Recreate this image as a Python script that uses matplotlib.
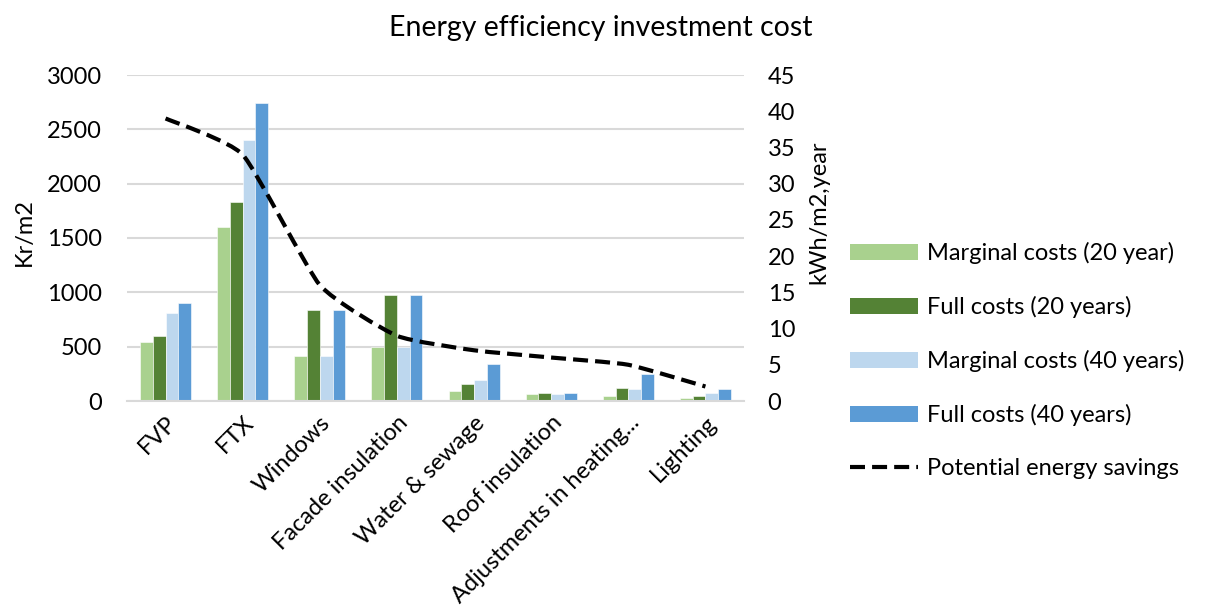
import matplotlib
matplotlib.use("Agg")
import matplotlib.pyplot as plt
import numpy as np
from matplotlib.path import Path
from matplotlib.patches import PathPatch
from matplotlib.lines import Line2D
from matplotlib.patches import Patch

plt.rcParams['font.family'] = ['Lato', 'DejaVu Sans']

categories = ["FVP", "FTX", "Windows", "Facade insulation", "Water & sewage",
              "Roof insulation", "Adjustments in heating...", "Lighting"]
marginal_20 = [540, 1600, 410, 500, 90, 65, 50, 30]
full_20 = [600, 1830, 840, 980, 160, 75, 120, 50]
marginal_40 = [810, 2400, 410, 500, 190, 65, 110, 70]
full_40 = [900, 2740, 840, 980, 340, 75, 250, 110]
energy_savings = [39, 34, 16, 9, 7, 6, 5, 2]

series_names = ["Marginal costs (20 year)", "Full costs (20 years)",
                "Marginal costs (40 years)", "Full costs (40 years)"]
colors = ["#A9D18E", "#548235", "#BDD7EE", "#5B9BD5"]
line_name = "Potential energy savings"

FS = 17

fig = plt.figure(figsize=(12.05, 6.12), dpi=100)
ax = fig.add_axes([127/1205, 1-401/612, (744-127)/1205, (401-75)/612])
ax2 = ax.twinx()

x = np.arange(len(categories))
bw = 0.165
series = [marginal_20, full_20, marginal_40, full_40]
for i, (vals, c) in enumerate(zip(series, colors)):
    ax.bar(x + (i - 1.5) * bw, vals, width=bw, color=c, edgecolor='white',
           linewidth=0.4, zorder=2)

ax.set_xlim(-0.5, len(categories) - 0.5)
ax.set_ylim(0, 3000)
ax.set_yticks(np.arange(0, 3001, 500))
ax.yaxis.grid(True, color='#D9D9D9', linewidth=1.5, zorder=0)
ax.set_axisbelow(True)
for s in ['top', 'right', 'left']:
    ax.spines[s].set_visible(False)
ax.spines['bottom'].set_color('#D9D9D9')
ax.spines['bottom'].set_linewidth(1.5)
ax.tick_params(axis='y', length=0, labelsize=FS, colors='black', pad=18)
ax.tick_params(axis='x', length=0, labelsize=FS, colors='black', pad=8)
ax.set_xticks(x)
ax.set_xticklabels(categories, rotation=45, ha='right', rotation_mode='anchor')
ax.set_ylabel("Kr/m2", fontsize=FS)
ax.yaxis.set_label_coords(-0.15, 0.518)

# smoothed line (Excel-like Bezier through data points)
pts = np.column_stack([x.astype(float), np.array(energy_savings, float)])
verts = [tuple(pts[0])]
codes = [Path.MOVETO]
n = len(pts)
k = 1.0 / 12.0
for i in range(n - 1):
    p0 = pts[i - 1] if i > 0 else pts[i]
    p1 = pts[i]
    p2 = pts[i + 1]
    p3 = pts[i + 2] if i + 2 < n else pts[i + 1]
    c1 = p1 + (p2 - p0) * k
    c2 = p2 - (p3 - p1) * k
    verts += [tuple(c1), tuple(c2), tuple(p2)]
    codes += [Path.CURVE4] * 3
dash = (0, (3.6, 1.7))
patch = PathPatch(Path(verts, codes), facecolor='none', edgecolor='black',
                  linewidth=3.0, linestyle=dash, zorder=5)
ax2.add_patch(patch)
ax2.set_ylim(0, 45)
ax2.set_yticks(np.arange(0, 46, 5))
for s in ax2.spines.values():
    s.set_visible(False)
ax2.tick_params(axis='y', length=0, labelsize=FS, colors='black', pad=17)
ax2.set_ylabel("kWh/m2,year", fontsize=FS)
ax2.yaxis.set_label_coords(1.105, 0.58)

fig.text(601/1205, 1-28/612, "Energy efficiency investment cost",
         ha='center', va='center', fontsize=20.5)

handles = [Patch(facecolor=c, edgecolor='none') for c in colors]
handles.append(Line2D([0], [0], color='black', linewidth=3.0, linestyle=dash))
labels = series_names + [line_name]
fig.legend(handles, labels, loc='upper left', bbox_to_anchor=(829/1205, 1-221/612),
           frameon=False, fontsize=FS, handlelength=2.85, handleheight=0.65,
           labelspacing=1.35, handletextpad=0.4)

fig.savefig("out.png", dpi=100)
